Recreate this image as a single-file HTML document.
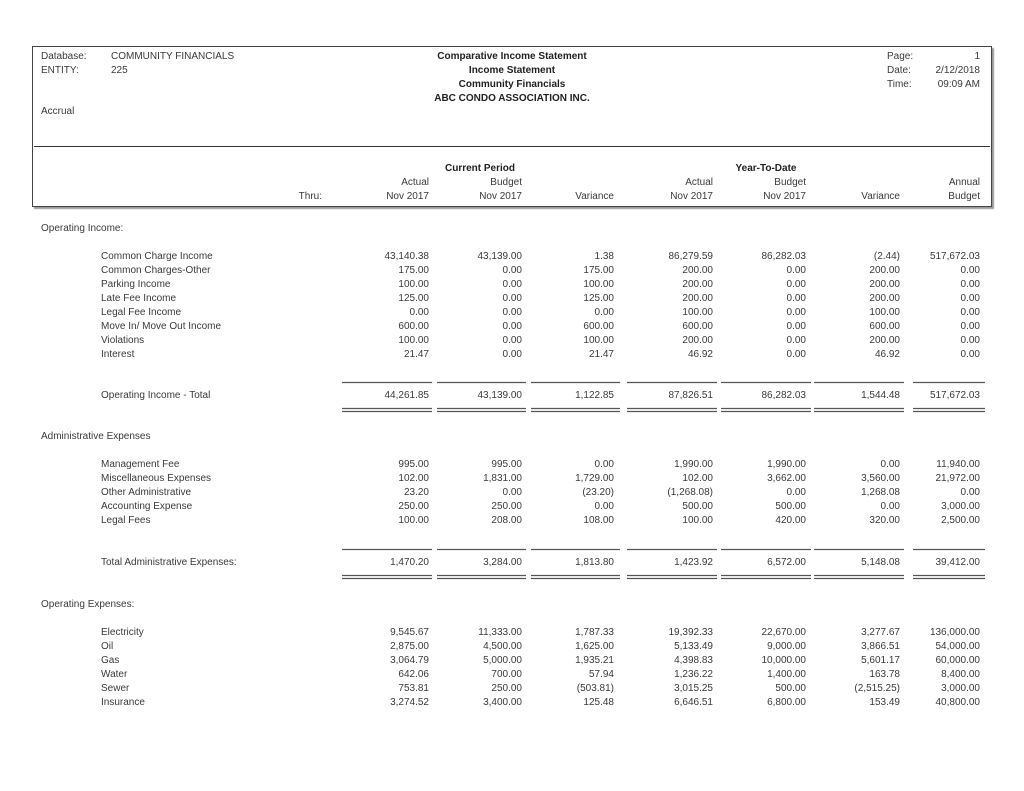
<!DOCTYPE html>
<html><head><meta charset="utf-8"><style>
body{margin:0;width:1024px;height:791px;background:#fff;position:relative;overflow:hidden;font-family:"Liberation Sans",sans-serif;font-size:10px;color:#3a3a3a}
.t{position:absolute;line-height:12px;white-space:nowrap}
.r{position:absolute;line-height:12px;white-space:nowrap;text-align:right}
.b{font-weight:bold;color:#222}
.row{position:absolute;left:0;width:1024px;height:12px}
.row .r{top:0}
.c1{right:595px}.c2{right:502px}.c3{right:410px}.c4{right:311px}.c5{right:218px}.c6{right:124px}.c7{right:44px}
.ln{position:absolute;height:1px;background:#666}
</style></head><body>
<div style="position:absolute;left:32px;top:46px;width:958px;height:159px;border:1px solid #444;box-shadow:2px 2px 1px #999"></div>
<div class="ln" style="left:34px;top:146px;width:956px;background:#333"></div>

<div class="t" style="left:41px;top:51px">Database:</div>
<div class="t" style="left:111px;top:51px">COMMUNITY FINANCIALS</div>
<div class="t" style="left:41px;top:65px">ENTITY:</div>
<div class="t" style="left:111px;top:65px">225</div>
<div class="t" style="left:41px;top:106px">Accrual</div>

<div class="t b" style="left:312px;width:400px;text-align:center;top:51px">Comparative Income Statement</div>
<div class="t b" style="left:312px;width:400px;text-align:center;top:65px">Income Statement</div>
<div class="t b" style="left:312px;width:400px;text-align:center;top:79px">Community Financials</div>
<div class="t b" style="left:312px;width:400px;text-align:center;top:93px">ABC CONDO ASSOCIATION INC.</div>

<div class="t" style="left:887px;top:51px">Page:</div>
<div class="t" style="left:887px;top:65px">Date:</div>
<div class="t" style="left:887px;top:79px">Time:</div>
<div class="r" style="right:44px;top:51px">1</div>
<div class="r" style="right:44px;top:65px">2/12/2018</div>
<div class="r" style="right:44px;top:79px">09:09 AM</div>

<div class="t b" style="left:380px;width:200px;text-align:center;top:163px">Current Period</div>
<div class="t b" style="left:666px;width:200px;text-align:center;top:163px">Year-To-Date</div>
<div class="row" style="top:177px"><span class="r c1">Actual</span><span class="r c2">Budget</span><span class="r c4">Actual</span><span class="r c5">Budget</span><span class="r c7">Annual</span></div>
<div class="row" style="top:191px"><span class="r" style="right:702px">Thru:</span><span class="r c1">Nov 2017</span><span class="r c2">Nov 2017</span><span class="r c3">Variance</span><span class="r c4">Nov 2017</span><span class="r c5">Nov 2017</span><span class="r c6">Variance</span><span class="r c7">Budget</span></div>

<div class="t" style="left:41px;top:223px">Operating Income:</div>
<div class="row" style="top:251px"><span class="t" style="left:101px">Common Charge Income</span><span class="r c1">43,140.38</span><span class="r c2">43,139.00</span><span class="r c3">1.38</span><span class="r c4">86,279.59</span><span class="r c5">86,282.03</span><span class="r c6">(2.44)</span><span class="r c7">517,672.03</span></div>
<div class="row" style="top:265px"><span class="t" style="left:101px">Common Charges-Other</span><span class="r c1">175.00</span><span class="r c2">0.00</span><span class="r c3">175.00</span><span class="r c4">200.00</span><span class="r c5">0.00</span><span class="r c6">200.00</span><span class="r c7">0.00</span></div>
<div class="row" style="top:279px"><span class="t" style="left:101px">Parking Income</span><span class="r c1">100.00</span><span class="r c2">0.00</span><span class="r c3">100.00</span><span class="r c4">200.00</span><span class="r c5">0.00</span><span class="r c6">200.00</span><span class="r c7">0.00</span></div>
<div class="row" style="top:293px"><span class="t" style="left:101px">Late Fee Income</span><span class="r c1">125.00</span><span class="r c2">0.00</span><span class="r c3">125.00</span><span class="r c4">200.00</span><span class="r c5">0.00</span><span class="r c6">200.00</span><span class="r c7">0.00</span></div>
<div class="row" style="top:307px"><span class="t" style="left:101px">Legal Fee Income</span><span class="r c1">0.00</span><span class="r c2">0.00</span><span class="r c3">0.00</span><span class="r c4">100.00</span><span class="r c5">0.00</span><span class="r c6">100.00</span><span class="r c7">0.00</span></div>
<div class="row" style="top:321px"><span class="t" style="left:101px">Move In/ Move Out Income</span><span class="r c1">600.00</span><span class="r c2">0.00</span><span class="r c3">600.00</span><span class="r c4">600.00</span><span class="r c5">0.00</span><span class="r c6">600.00</span><span class="r c7">0.00</span></div>
<div class="row" style="top:335px"><span class="t" style="left:101px">Violations</span><span class="r c1">100.00</span><span class="r c2">0.00</span><span class="r c3">100.00</span><span class="r c4">200.00</span><span class="r c5">0.00</span><span class="r c6">200.00</span><span class="r c7">0.00</span></div>
<div class="row" style="top:349px"><span class="t" style="left:101px">Interest</span><span class="r c1">21.47</span><span class="r c2">0.00</span><span class="r c3">21.47</span><span class="r c4">46.92</span><span class="r c5">0.00</span><span class="r c6">46.92</span><span class="r c7">0.00</span></div>

<div class="row" style="top:390px"><span class="t" style="left:101px">Operating Income - Total</span><span class="r c1">44,261.85</span><span class="r c2">43,139.00</span><span class="r c3">1,122.85</span><span class="r c4">87,826.51</span><span class="r c5">86,282.03</span><span class="r c6">1,544.48</span><span class="r c7">517,672.03</span></div>

<div class="t" style="left:41px;top:431px">Administrative Expenses</div>
<div class="row" style="top:459px"><span class="t" style="left:101px">Management Fee</span><span class="r c1">995.00</span><span class="r c2">995.00</span><span class="r c3">0.00</span><span class="r c4">1,990.00</span><span class="r c5">1,990.00</span><span class="r c6">0.00</span><span class="r c7">11,940.00</span></div>
<div class="row" style="top:473px"><span class="t" style="left:101px">Miscellaneous Expenses</span><span class="r c1">102.00</span><span class="r c2">1,831.00</span><span class="r c3">1,729.00</span><span class="r c4">102.00</span><span class="r c5">3,662.00</span><span class="r c6">3,560.00</span><span class="r c7">21,972.00</span></div>
<div class="row" style="top:487px"><span class="t" style="left:101px">Other Administrative</span><span class="r c1">23.20</span><span class="r c2">0.00</span><span class="r c3">(23.20)</span><span class="r c4">(1,268.08)</span><span class="r c5">0.00</span><span class="r c6">1,268.08</span><span class="r c7">0.00</span></div>
<div class="row" style="top:501px"><span class="t" style="left:101px">Accounting Expense</span><span class="r c1">250.00</span><span class="r c2">250.00</span><span class="r c3">0.00</span><span class="r c4">500.00</span><span class="r c5">500.00</span><span class="r c6">0.00</span><span class="r c7">3,000.00</span></div>
<div class="row" style="top:515px"><span class="t" style="left:101px">Legal Fees</span><span class="r c1">100.00</span><span class="r c2">208.00</span><span class="r c3">108.00</span><span class="r c4">100.00</span><span class="r c5">420.00</span><span class="r c6">320.00</span><span class="r c7">2,500.00</span></div>

<div class="row" style="top:557px"><span class="t" style="left:101px">Total Administrative Expenses:</span><span class="r c1">1,470.20</span><span class="r c2">3,284.00</span><span class="r c3">1,813.80</span><span class="r c4">1,423.92</span><span class="r c5">6,572.00</span><span class="r c6">5,148.08</span><span class="r c7">39,412.00</span></div>

<div class="t" style="left:41px;top:599px">Operating Expenses:</div>
<div class="row" style="top:627px"><span class="t" style="left:101px">Electricity</span><span class="r c1">9,545.67</span><span class="r c2">11,333.00</span><span class="r c3">1,787.33</span><span class="r c4">19,392.33</span><span class="r c5">22,670.00</span><span class="r c6">3,277.67</span><span class="r c7">136,000.00</span></div>
<div class="row" style="top:641px"><span class="t" style="left:101px">Oil</span><span class="r c1">2,875.00</span><span class="r c2">4,500.00</span><span class="r c3">1,625.00</span><span class="r c4">5,133.49</span><span class="r c5">9,000.00</span><span class="r c6">3,866.51</span><span class="r c7">54,000.00</span></div>
<div class="row" style="top:655px"><span class="t" style="left:101px">Gas</span><span class="r c1">3,064.79</span><span class="r c2">5,000.00</span><span class="r c3">1,935.21</span><span class="r c4">4,398.83</span><span class="r c5">10,000.00</span><span class="r c6">5,601.17</span><span class="r c7">60,000.00</span></div>
<div class="row" style="top:669px"><span class="t" style="left:101px">Water</span><span class="r c1">642.06</span><span class="r c2">700.00</span><span class="r c3">57.94</span><span class="r c4">1,236.22</span><span class="r c5">1,400.00</span><span class="r c6">163.78</span><span class="r c7">8,400.00</span></div>
<div class="row" style="top:683px"><span class="t" style="left:101px">Sewer</span><span class="r c1">753.81</span><span class="r c2">250.00</span><span class="r c3">(503.81)</span><span class="r c4">3,015.25</span><span class="r c5">500.00</span><span class="r c6">(2,515.25)</span><span class="r c7">3,000.00</span></div>
<div class="row" style="top:697px"><span class="t" style="left:101px">Insurance</span><span class="r c1">3,274.52</span><span class="r c2">3,400.00</span><span class="r c3">125.48</span><span class="r c4">6,646.51</span><span class="r c5">6,800.00</span><span class="r c6">153.49</span><span class="r c7">40,800.00</span></div>

<svg style="position:absolute;left:0;top:0" width="1024" height="791">
<g stroke="#555" stroke-width="1.2">
<path d="M342 382.5H432M437 382.5H526M531 382.5H620M627 382.5H717M721 382.5H811M814 382.5H904M913 382.5H985"/>
<path d="M342 408.5H432M437 408.5H526M531 408.5H620M627 408.5H717M721 408.5H811M814 408.5H904M913 408.5H985"/>
<path d="M342 411.5H432M437 411.5H526M531 411.5H620M627 411.5H717M721 411.5H811M814 411.5H904M913 411.5H985"/>
<path d="M342 549.5H432M437 549.5H526M531 549.5H620M627 549.5H717M721 549.5H811M814 549.5H904M913 549.5H985"/>
<path d="M342 575.5H432M437 575.5H526M531 575.5H620M627 575.5H717M721 575.5H811M814 575.5H904M913 575.5H985"/>
<path d="M342 578.5H432M437 578.5H526M531 578.5H620M627 578.5H717M721 578.5H811M814 578.5H904M913 578.5H985"/>
</g></svg>
</body></html>
